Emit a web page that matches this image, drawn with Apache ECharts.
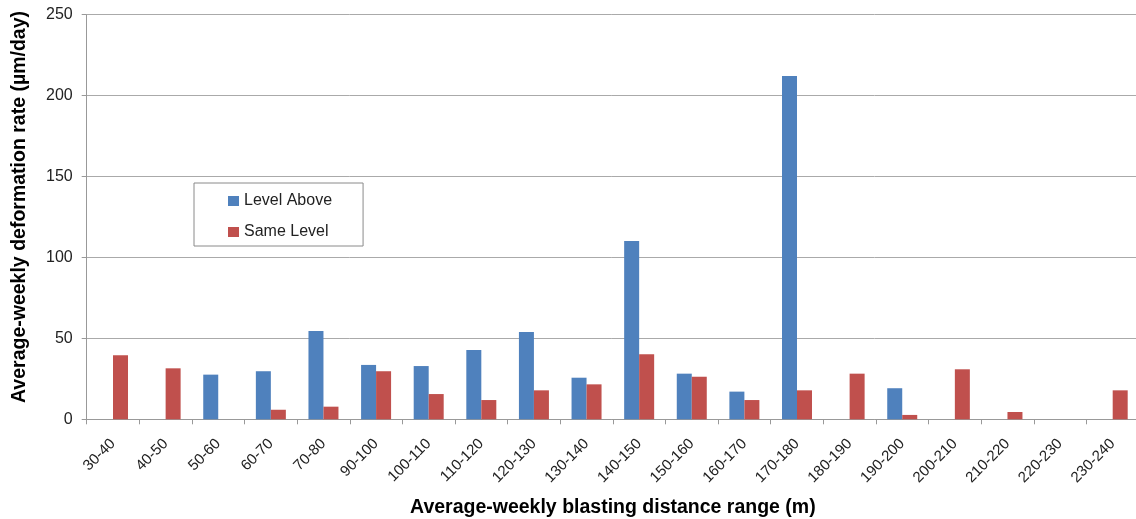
<!DOCTYPE html>
<html><head><meta charset="utf-8">
<script src="https://cdn.jsdelivr.net/npm/echarts@6/dist/echarts.min.js"></script>
<style>html,body{margin:0;padding:0;background:#fff}#c{width:1136px;height:519px}</style>
</head><body><div id="c"></div>
<script>
const categories = ['30-40','40-50','50-60','60-70','70-80','90-100','100-110','110-120','120-130','130-140','140-150','150-160','160-170','170-180','180-190','190-200','200-210','210-220','220-230','230-240'];
const levelAbove = [null,null,27.6,29.7,54.6,33.6,32.9,42.8,53.9,25.7,110.2,28.2,17.1,212.1,null,19.2,null,null,null,null];
const sameLevel = [39.5,31.5,null,5.9,7.8,29.7,15.6,11.9,17.9,21.6,40.2,26.3,11.9,17.9,28.2,2.7,30.9,4.5,null,17.9];
const yTicks = [0,50,100,150,200,250];

const chart = echarts.init(document.getElementById('c'));
const font = '"Liberation Sans", Arial, sans-serif';
chart.setOption({
  animation:false,
  textStyle:{fontFamily:font},
  grid:{left:86.7, right:-3, top:14.7, bottom:99.7, containLabel:false, outerBoundsMode:'none'},
  legend:{
    orient:'vertical', left:194, top:183,
    padding:[10,31,6,34], itemGap:15,
    itemWidth:11, itemHeight:10, icon:'rect',
    borderColor:'#8a8a8a', borderWidth:1,
    textStyle:{fontSize:16, color:'#222', fontFamily:font}
  },
  xAxis:{
    type:'category', data:categories,
    name:'Average-weekly blasting distance range (m)',
    nameLocation:'middle', nameGap:78,
    nameTextStyle:{fontSize:19.5, fontWeight:'bold', color:'#000', fontFamily:font},
    axisLine:{lineStyle:{color:'#999'}},
    axisTick:{show:true, length:5, lineStyle:{color:'#999'}},
    axisLabel:{rotate:45, fontSize:15, color:'#222', margin:22, interval:0}
  },
  yAxis:{
    type:'value', min:yTicks[0], max:yTicks[yTicks.length-1], interval:50,
    name:'Average-weekly deformation rate (µm/day)',
    nameLocation:'middle', nameGap:57, nameRotate:90,
    nameTextStyle:{fontSize:19.5, fontWeight:'bold', color:'#000', fontFamily:font, padding:[0,0,0,20]},
    axisLine:{show:true, lineStyle:{color:'#999'}},
    axisTick:{show:true, length:5, lineStyle:{color:'#999'}},
    axisLabel:{fontSize:16, color:'#222', margin:14},
    splitLine:{lineStyle:{color:'#aaa', width:1}}
  },
  series:[
    {name:'Level Above', type:'bar', data:levelAbove, barWidth:15, barGap:'0%', itemStyle:{color:'#4F81BD'}},
    {name:'Same Level', type:'bar', data:sameLevel, barWidth:15, barGap:'0%', itemStyle:{color:'#C0504D'}}
  ]
});
</script></body></html>
